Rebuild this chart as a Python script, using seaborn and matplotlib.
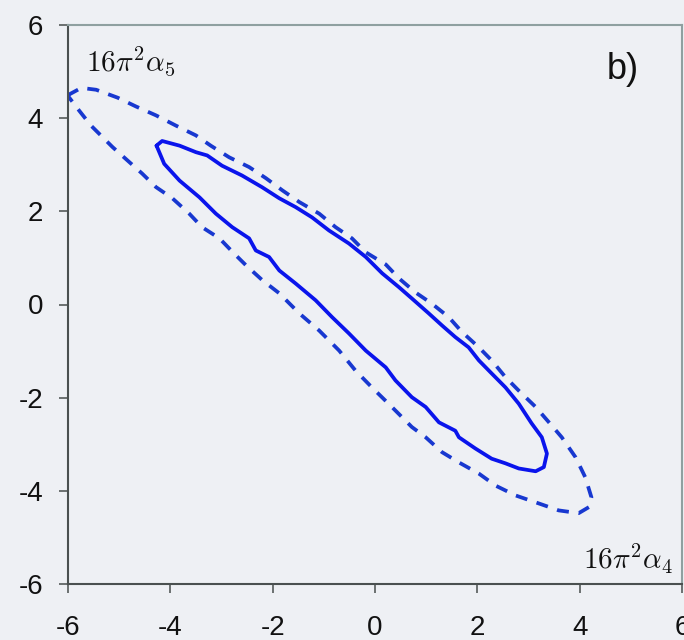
import matplotlib
matplotlib.use("Agg")
import matplotlib.pyplot as plt
import seaborn as sns
import pandas as pd

# Inner (solid) contour, 16pi^2 alpha_4 vs 16pi^2 alpha_5
inner_x = [-4.27, -4.16, -3.82, -3.50, -3.28, -2.99, -2.60, -2.21, -1.87, -1.55, -1.23, -0.90,
           -0.51, -0.18, 0.14, 0.47, 0.72, 1.05, 1.31, 1.57, 1.83, 2.03, 2.28, 2.55, 2.81, 3.06,
           3.26, 3.36, 3.30, 3.14, 2.81, 2.55, 2.28, 1.96, 1.64, 1.57, 1.25, 0.99, 0.72, 0.40,
           0.21, -0.18, -0.51, -0.84, -1.16, -1.55, -1.87, -2.07, -2.33, -2.46, -2.79, -3.11,
           -3.43, -3.82, -4.12, -4.27]
inner_y = [3.41, 3.51, 3.41, 3.27, 3.20, 2.98, 2.77, 2.52, 2.28, 2.09, 1.87, 1.59,
           1.31, 1.02, 0.67, 0.37, 0.13, -0.19, -0.45, -0.70, -0.92, -1.20, -1.48, -1.78, -2.13, -2.55,
           -2.85, -3.20, -3.49, -3.58, -3.52, -3.41, -3.31, -3.09, -2.85, -2.71, -2.53, -2.20, -1.99, -1.63,
           -1.35, -0.99, -0.62, -0.27, 0.09, 0.45, 0.73, 1.02, 1.16, 1.42, 1.66, 1.95,
           2.30, 2.66, 3.02, 3.41]

# Outer (dashed) contour
outer_x = [-6.01, -5.74, -5.45, -5.03, -4.67, -4.28, -3.89, -3.50, -3.21, -2.85, -2.46, -2.13,
           -1.81, -1.48, -1.09, -0.77, -0.45, -0.18, 0.21, 0.47, 0.79, 1.11, 1.44, 1.70, 2.03,
           2.28, 2.55, 2.81, 3.14, 3.40, 3.65, 3.92, 4.11, 4.23, 4.18, 3.98, 3.59, 3.20, 2.75,
           2.36, 2.03, 1.64, 1.31, 0.99, 0.72, 0.33, -0.06, -0.38, -0.70, -1.09, -1.48, -1.87,
           -2.20, -2.52, -2.75, -3.04, -3.38, -3.63, -3.96, -4.28, -4.55, -5.13, -5.55, -5.78, -6.01]
outer_y = [4.49, 4.65, 4.61, 4.44, 4.25, 4.06, 3.84, 3.63, 3.41, 3.16, 2.95, 2.71,
           2.45, 2.20, 1.95, 1.66, 1.42, 1.12, 0.86, 0.56, 0.26, 0.02, -0.27, -0.59, -0.92,
           -1.20, -1.56, -1.85, -2.20, -2.53, -2.85, -3.28, -3.71, -4.14, -4.35, -4.48, -4.42, -4.27, -4.10,
           -3.89, -3.63, -3.39, -3.17, -2.85, -2.63, -2.20, -1.78, -1.42, -0.99, -0.56, -0.19, 0.24,
           0.52, 0.84, 1.09, 1.42, 1.66, 1.95, 2.28, 2.52, 2.81, 3.38, 3.84, 4.16, 4.49]

ticks = [-6, -4, -2, 0, 2, 4, 6]
tick_labels = ["-6", "-4", "-2", "0", "2", "4", "6"]

bg = "#eef0f4"
sns.set_theme(style="white")
plt.rcParams["font.family"] = ["Liberation Sans", "DejaVu Sans"]
plt.rcParams["mathtext.fontset"] = "cm"

fig = plt.figure(figsize=(6.84, 6.4), dpi=100, facecolor=bg)
ax = fig.add_axes([68 / 684, 56 / 640, 614 / 684, 559 / 640])
ax.set_facecolor(bg)

inner = pd.DataFrame({"x": inner_x, "y": inner_y})
outer = pd.DataFrame({"x": outer_x, "y": outer_y})

sns.lineplot(data=outer, x="x", y="y", sort=False, estimator=None, ax=ax,
             color="#1838d0", linewidth=2.7, linestyle=(0, (3.2, 2.6)))
sns.lineplot(data=inner, x="x", y="y", sort=False, estimator=None, ax=ax,
             color="#0a14ec", linewidth=2.7)

ax.set_xlim(-6, 6)
ax.set_ylim(-6, 6)
ax.set_xticks(ticks)
ax.set_xticklabels(tick_labels)
ax.set_yticks(ticks)
ax.set_yticklabels(tick_labels)
ax.set_xlabel("")
ax.set_ylabel("")
ax.tick_params(axis="both", which="major", direction="out", length=6.5, width=1.2,
               color="#555a5a", labelsize=20, labelcolor="#111111", bottom=True, left=True)
ax.tick_params(axis="y", pad=11.5)
ax.tick_params(axis="x", pad=16)

for side in ["left", "bottom"]:
    ax.spines[side].set_color("#4a5050")
    ax.spines[side].set_linewidth(1.5)
for side in ["top", "right"]:
    ax.spines[side].set_color("#8fa0a0")
    ax.spines[side].set_linewidth(1.5)
    ax.spines[side].set_visible(True)

ax.text(0.03, 0.965, r"$16\pi^2\alpha_5$", transform=ax.transAxes, fontsize=21,
        ha="left", va="top", color="#111111")
ax.text(0.985, 0.015, r"$16\pi^2\alpha_4$", transform=ax.transAxes, fontsize=21,
        ha="right", va="bottom", color="#111111")
ax.text(0.93, 0.952, "b)", transform=ax.transAxes, fontsize=26,
        ha="right", va="top", color="#111111")

fig.savefig("out.png", dpi=100, facecolor=bg)
